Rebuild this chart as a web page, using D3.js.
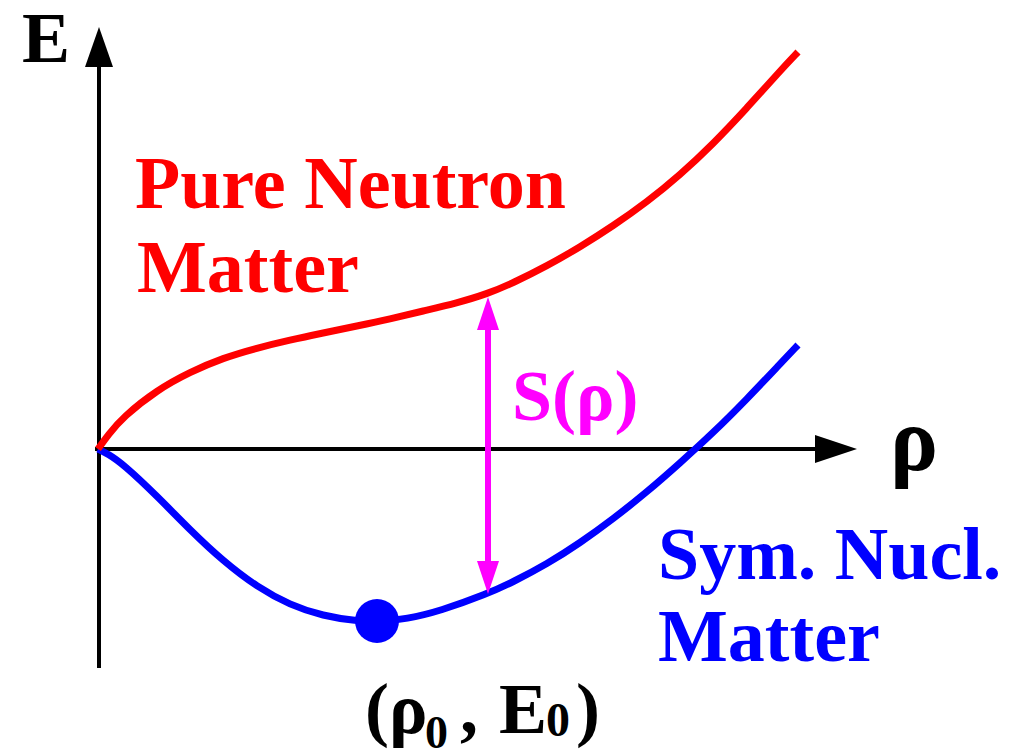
<!DOCTYPE html>
<html>
<head>
<meta charset="utf-8">
<script src="https://cdn.jsdelivr.net/npm/d3@7"></script>
<style>
  html, body { margin: 0; padding: 0; background: #fff; }
  svg { display: block; }
  text { font-family: "Liberation Serif", "Times New Roman", serif; font-weight: bold; }
</style>
</head>
<body>
<svg id="chart" width="1012" height="755"></svg>
<script>
// Density values (arbitrary units) and energies per nucleon
const neutronRho = [0, 0.1, 0.25, 0.59, 0.92, 1.25, 1.59, 1.92, 2.25, 2.59, 2.92, 3.25, 3.59, 3.89, 4.15, 4.49, 4.82, 5.15, 5.49, 5.82, 6.15, 6.49, 6.82, 7.0];
const neutronE = [0, 0.14, 0.32, 0.59, 0.77, 0.91, 1.01, 1.09, 1.16, 1.23, 1.30, 1.38, 1.46, 1.55, 1.66, 1.83, 2.02, 2.23, 2.47, 2.74, 3.05, 3.41, 3.78, 3.97];

const symRho = [0, 0.1, 0.25, 0.59, 0.92, 1.25, 1.59, 1.92, 2.25, 2.59, 2.79, 3.09, 3.42, 3.89, 4.15, 4.49, 4.82, 5.15, 5.49, 5.82, 6.15, 6.49, 6.82, 7.0];
const symE = [0, -0.05, -0.15, -0.47, -0.81, -1.12, -1.38, -1.56, -1.67, -1.72, -1.73, -1.70, -1.62, -1.45, -1.33, -1.15, -0.94, -0.70, -0.43, -0.14, 0.16, 0.50, 0.85, 1.04];

// saturation point (rho0, E0) and where S(rho) is marked
const saturation = [2.79, -1.72];
const symmetryRho = 3.9;
const symmetryEnds = [1.52, -1.45];

// axis extents
const xAxisExtent = [-0.03, 7.59];
const yAxisExtent = [-2.19, 4.22];

const svg = d3.select('#chart');

const x = d3.scaleLinear().domain([0, 7]).range([98, 798]);
const y = d3.scaleLinear().domain([-2, 4]).range([649, 49]);

const line = d3.line()
  .x((d) => x(d[0]))
  .y((d) => y(d[1]))
  .curve(d3.curveBasis);

// Axes
const axisColor = '#000';
svg.append('line')
  .attr('x1', x(0) + 1).attr('x2', x(0) + 1)
  .attr('y1', y(yAxisExtent[0])).attr('y2', y(yAxisExtent[1]) + 30)
  .attr('stroke', axisColor).attr('stroke-width', 4);
svg.append('path')
  .attr('d', `M${x(0) + 1},${y(yAxisExtent[1])} L${x(0) + 15},${y(yAxisExtent[1]) + 40} L${x(0) - 13},${y(yAxisExtent[1]) + 40} Z`)
  .attr('fill', axisColor);

svg.append('line')
  .attr('x1', x(xAxisExtent[0])).attr('x2', x(xAxisExtent[1]) - 30)
  .attr('y1', y(0)).attr('y2', y(0))
  .attr('stroke', axisColor).attr('stroke-width', 4);
svg.append('path')
  .attr('d', `M${x(xAxisExtent[1])},${y(0)} L${x(xAxisExtent[1]) - 42},${y(0) - 14} L${x(xAxisExtent[1]) - 42},${y(0) + 14} Z`)
  .attr('fill', axisColor);

// Curves
svg.append('path')
  .datum(d3.zip(symRho, symE))
  .attr('d', line)
  .attr('fill', 'none')
  .attr('stroke', '#0000ff')
  .attr('stroke-width', 7);

svg.append('path')
  .datum(d3.zip(neutronRho, neutronE))
  .attr('d', line)
  .attr('fill', 'none')
  .attr('stroke', '#ff0000')
  .attr('stroke-width', 7);

// Saturation point
svg.append('circle')
  .attr('cx', x(saturation[0]))
  .attr('cy', y(saturation[1]))
  .attr('r', 22)
  .attr('fill', '#0000ff');

// Symmetry energy double arrow
const sx = x(symmetryRho);
const sTop = y(symmetryEnds[0]);
const sBot = y(symmetryEnds[1]);
const magenta = '#ff00ff';
svg.append('line')
  .attr('x1', sx).attr('x2', sx)
  .attr('y1', sTop + 30).attr('y2', sBot - 30)
  .attr('stroke', magenta).attr('stroke-width', 6);
svg.append('path')
  .attr('d', `M${sx},${sTop} L${sx + 11},${sTop + 33} L${sx - 11},${sTop + 33} Z`)
  .attr('fill', magenta);
svg.append('path')
  .attr('d', `M${sx},${sBot} L${sx + 11},${sBot - 33} L${sx - 11},${sBot - 33} Z`)
  .attr('fill', magenta);

// Labels
const label = (txt, px, py, color, size) => svg.append('text')
  .attr('x', px).attr('y', py)
  .attr('fill', color)
  .style('font-size', `${size}px`)
  .text(txt);

label('E', 22, 62, '#000', 72);
label('ρ', 890, 470, '#000', 90);
label('Pure Neutron', 135, 208, '#ff0000', 74);
label('Matter', 137, 292, '#ff0000', 74);
label('S(ρ)', 512, 420, magenta, 72);
label('Sym. Nucl.', 658, 579, '#0000ff', 74);
label('Matter', 658, 661, '#0000ff', 74);

// (rho0 , E0)
label('(', 365, 733, '#000', 72);
label('ρ', 389, 733, '#000', 72);
label('0', 425, 748, '#000', 46);
label(',', 460, 733, '#000', 72);
label('E', 499, 733, '#000', 72);
label('0', 546, 736, '#000', 48);
label(')', 576, 733, '#000', 72);
</script>
</body>
</html>
